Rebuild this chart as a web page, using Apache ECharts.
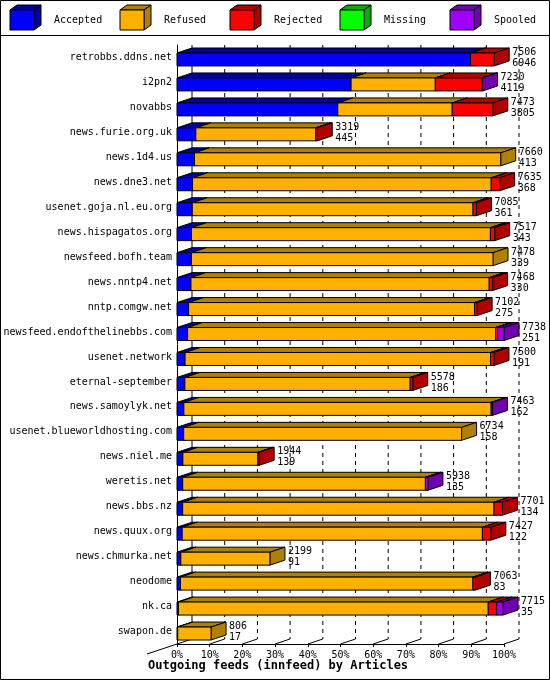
<!DOCTYPE html><html><head><meta charset="utf-8">
<script src="https://cdn.jsdelivr.net/npm/echarts@6/dist/echarts.min.js"></script>
<style>html,body{margin:0;padding:0;background:#fff}#c{width:550px;height:680px}</style></head><body><div id="c"></div>
<script>
const hosts=["retrobbs.ddns.net","i2pn2","novabbs","news.furie.org.uk","news.1d4.us","news.dne3.net","usenet.goja.nl.eu.org","news.hispagatos.org","newsfeed.bofh.team","news.nntp4.net","nntp.comgw.net","newsfeed.endofthelinebbs.com","usenet.network","eternal-september","news.samoylyk.net","usenet.blueworldhosting.com","news.niel.me","weretis.net","news.bbs.nz","news.quux.org","news.chmurka.net","neodome","nk.ca","swapon.de"];
const totals=[7506,7230,7473,3319,7660,7635,7085,7517,7478,7468,7102,7738,7500,5578,7463,6734,1944,5938,7701,7427,2199,7063,7715,806];
const accepted=[6946,4119,3805,445,413,368,361,343,339,330,275,251,191,186,162,158,139,135,134,122,91,83,35,17];
const refused=[0,1993,2708,2835,7247,7067,6644,7074,7139,7058,6767,7287,7229,5332,7271,6576,1775,5743,7367,7105,2108,6920,7330,789];
const rejected=[560,1098,960,39,0,200,80,100,0,80,60,50,80,60,0,0,30,0,200,200,0,60,200,0];
const missing=[0,0,0,0,0,0,0,0,0,0,0,0,0,0,0,0,0,0,0,0,0,0,0,0];
const spooled=[0,20,0,0,0,0,0,0,0,0,0,150,0,0,30,0,0,60,0,0,0,0,150,0];
const segNames=["Accepted","Refused","Rejected","Missing","Spooled"];
const pct=["0%","10%","20%","30%","40%","50%","60%","70%","80%","90%","100%"];
const front=["#0000ff","#ffb000","#ff0000","#00ff00","#a000ff"];
const side=["#0000a0","#b08000","#b00000","#00b000","#7000b0"];
const maxV=Math.max(...totals);
const DX=15,DY=5;
const segs=[accepted,refused,rejected,missing,spooled];
const barData=[];
hosts.forEach((h,i)=>{let s=0;segs.forEach((arr,k)=>{const v=arr[i];if(v>0){barData.push([i,s,s+v,k]);s+=v;}});});
const labelData=hosts.map((h,i)=>[i,totals[i],accepted[i]]);
const F='"DejaVu Sans Mono", monospace';
function box(x0,y0,x1,y1,k){
 const st={stroke:'#000',lineWidth:1};
 return [
  {type:'polygon',shape:{points:[[x0,y0],[x0+DX,y0-DY],[x1+DX,y0-DY],[x1,y0]]},style:Object.assign({fill:side[k]},st)},
  {type:'polygon',shape:{points:[[x1,y0],[x1+DX,y0-DY],[x1+DX,y1-DY],[x1,y1]]},style:Object.assign({fill:side[k]},st)},
  {type:'rect',shape:{x:x0,y:y0,width:x1-x0,height:y1-y0},style:Object.assign({fill:front[k]},st)}];
}
const chart=echarts.init(document.getElementById('c'));
const legendG=[];
segNames.forEach((n,k)=>{const x=10+k*110;
 legendG.push({type:'polygon',shape:{points:[[x,10],[x+7,5],[x+31,5],[x+24,10]]},style:{fill:side[k],stroke:'#000'}});
 legendG.push({type:'polygon',shape:{points:[[x+24,10],[x+31,5],[x+31,25],[x+24,30]]},style:{fill:side[k],stroke:'#000'}});
 legendG.push({type:'rect',shape:{x:x,y:10,width:24,height:20},style:{fill:front[k],stroke:'#000'}});
 legendG.push({type:'text',x:x+44,y:20,style:{text:n,font:'10px '+F,fill:'#000',verticalAlign:'middle'}});
});
legendG.push({type:'rect',shape:{x:0.5,y:0.5,width:549,height:679},style:{fill:null,stroke:'#000'},silent:true});
legendG.push({type:'line',shape:{x1:0,y1:35.5,x2:550,y2:35.5},style:{stroke:'#000'}});
legendG.push({type:'text',x:148,y:666,style:{text:'Outgoing feeds (innfeed) by Articles',font:'bold 12px '+F,fill:'#000',verticalAlign:'middle'}});
chart.setOption({
 animation:false,
 graphic:legendG,
 grid:{left:177,right:46,top:45,bottom:36,containLabel:false,outerBoundsMode:'none'},
 xAxis:{type:'value',min:0,max:maxV,interval:maxV/10,
   axisLine:{show:true,lineStyle:{color:'#000'}},axisTick:{show:true,length:3,lineStyle:{color:'#000'}},splitLine:{show:false},
   axisLabel:{formatter:(v)=>pct[Math.round(v/maxV*10)],fontFamily:'DejaVu Sans Mono',fontSize:10,color:'#000',margin:6}},
 yAxis:{type:'category',data:hosts,inverse:true,axisLine:{show:true,lineStyle:{color:'#000'}},axisTick:{show:false},
   axisLabel:{fontFamily:'DejaVu Sans Mono',fontSize:10,color:'#000',margin:5}},
 series:[
  {type:'custom',z:1,data:[[0]],renderItem:(p,api)=>{
    const ch=[];const yTop=api.coord([0,0])[1]-api.size([0,1])[1]/2;const yBot=api.coord([0,hosts.length-1])[1]+api.size([0,1])[1]/2;
    for(let t=0;t<=10;t++){const x=api.coord([maxV*t/10,0])[0];
      ch.push({type:'line',shape:{x1:x+DX,y1:yTop,x2:x+DX,y2:yBot-DY},style:{stroke:'#000',lineDash:t==0?null:[4,4],lineWidth:1}});
      ch.push({type:'line',shape:{x1:x,y1:yBot,x2:x+DX,y2:yBot-DY},style:{stroke:'#000',lineWidth:1}});}
    const x0=api.coord([0,0])[0];
    ch.push({type:'line',shape:{x1:x0-DX*2,y1:yBot+DY*2,x2:x0,y2:yBot},style:{stroke:'#000'}});
    return {type:'group',children:ch};}},
  {type:'custom',z:2,data:barData,encode:{x:[1,2],y:0},renderItem:(p,api)=>{
    const i=api.value(0),a=api.value(1),b=api.value(2),k=api.value(3);
    const c0=api.coord([a,i]),c1=api.coord([b,i]);const h=api.size([0,1])[1]*0.52;
    return {type:'group',children:box(c0[0],c0[1]-h/2+2,c1[0],c0[1]+h/2+2,k)};}},
  {type:'custom',z:3,data:labelData,renderItem:(p,api)=>{
    const i=api.value(0);const c=api.coord([api.value(1),i]);
    return {type:'group',children:[
     {type:'text',x:c[0]+DX+3,y:c[1]-5,style:{text:String(api.value(1)),font:'10px '+F,fill:'#000',verticalAlign:'middle'}},
     {type:'text',x:c[0]+DX+3,y:c[1]+6,style:{text:String(api.value(2)),font:'10px '+F,fill:'#000',verticalAlign:'middle'}}]};}}
 ]});
</script></body></html>
